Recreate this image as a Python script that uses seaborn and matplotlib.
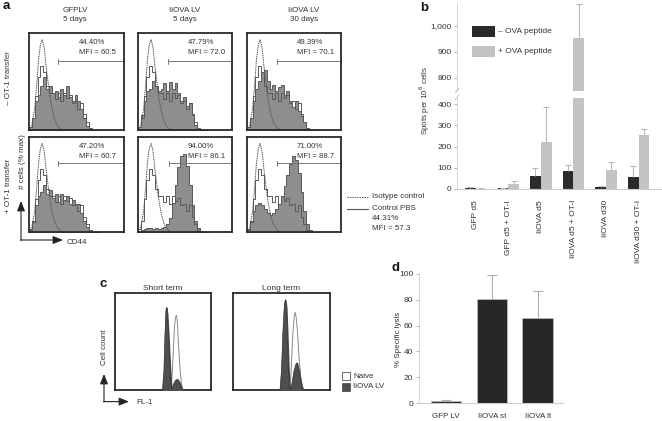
import numpy as np
import pandas as pd
import matplotlib
matplotlib.use("Agg")
import matplotlib.pyplot as plt
from matplotlib.patches import Rectangle
import seaborn as sns

# ---------------- data ----------------
# panel a (flow histograms, heights as fraction of box height)
a_col_titles = ["GFPLV\n5 days", "IiOVA LV\n5 days", "IiOVA LV\n30 days"]
a_row_titles = ["– OT-1 transfer", "+ OT-1 transfer"]
a_pct = [["44.40%", "47.79%", "49.39%"], ["47.20%", "94.00%", "71.00%"]]
a_mfi = [["MFI = 60.5", "MFI = 72.0", "MFI = 70.1"],
         ["MFI = 60.7", "MFI = 86.1", "MFI = 88.7"]]
a_bin_edges = [0.00, 0.03, 0.06, 0.09, 0.12, 0.15, 0.18, 0.21, 0.24, 0.27, 0.30, 0.33, 0.36,
               0.39, 0.42, 0.45, 0.48, 0.51, 0.54, 0.57, 0.60, 0.63, 0.66, 0.69, 0.72, 0.75]
a_control_pbs = [0.03, 0.12, 0.35, 0.55, 0.66, 0.60, 0.45, 0.38, 0.38, 0.32, 0.38, 0.30, 0.38,
                 0.33, 0.36, 0.28, 0.30, 0.22, 0.28, 0.16, 0.08, 0.02, 0.0, 0.0, 0.0]
a_gfp_minus = [0.03, 0.12, 0.30, 0.36, 0.45, 0.55, 0.42, 0.45, 0.38, 0.40, 0.34, 0.42, 0.36,
               0.45, 0.34, 0.30, 0.36, 0.30, 0.22, 0.12, 0.04, 0.0, 0.0, 0.0, 0.0]
a_iiova5_minus = [0.03, 0.15, 0.30, 0.40, 0.42, 0.50, 0.45, 0.40, 0.42, 0.48, 0.40, 0.50, 0.42,
                  0.48, 0.38, 0.30, 0.34, 0.25, 0.28, 0.15, 0.05, 0.0, 0.0, 0.0, 0.0]
a_iiova30_minus = [0.03, 0.12, 0.30, 0.42, 0.50, 0.60, 0.62, 0.50, 0.42, 0.46, 0.40, 0.44, 0.46,
                   0.36, 0.40, 0.30, 0.24, 0.30, 0.20, 0.14, 0.08, 0.02, 0.0, 0.0, 0.0]
a_gfp_plus = [0.02, 0.10, 0.28, 0.38, 0.42, 0.50, 0.40, 0.44, 0.36, 0.40, 0.32, 0.40, 0.34,
              0.38, 0.30, 0.34, 0.28, 0.30, 0.20, 0.12, 0.05, 0.0, 0.0, 0.0, 0.0]
a_iiova5_plus = [0.0, 0.02, 0.03, 0.04, 0.04, 0.03, 0.04, 0.03, 0.04, 0.05, 0.08, 0.15, 0.30,
                 0.50, 0.68, 0.80, 0.82, 0.70, 0.50, 0.28, 0.12, 0.04, 0.01, 0.0, 0.0]
a_iiova30_plus = [0.02, 0.10, 0.22, 0.28, 0.30, 0.28, 0.24, 0.20, 0.18, 0.20, 0.24, 0.30, 0.38,
                  0.48, 0.60, 0.72, 0.80, 0.76, 0.62, 0.42, 0.22, 0.08, 0.02, 0.0, 0.0]
a_iso_x = [0.0, 0.03, 0.06, 0.08, 0.10, 0.12, 0.14, 0.16, 0.18, 0.20, 0.22, 0.25, 0.28, 0.32, 0.36]
a_iso_y = [0.0, 0.05, 0.22, 0.45, 0.72, 0.88, 0.93, 0.85, 0.66, 0.50, 0.34, 0.18, 0.08, 0.02, 0.0]
a_gate_start = [[0.31, 0.32, 0.32], [0.31, 0.33, 0.32]]

# panel b (ELISPOT)
b_groups = ["GFP d5", "GFP d5 + OT-I", "IiOVA d5", "IiOVA d5 + OT-I", "IiOVA d30", "IiOVA d30 + OT-I"]
b_peptides = ["– OVA peptide", "+ OVA peptide"]
b_minus = [5, 3, 60, 85, 8, 57]
b_minus_err = [5, 2, 40, 27, 4, 53]
b_plus = [2, 24, 222, 955, 91, 255]
b_plus_err = [1, 12, 164, 130, 38, 29]
b_low_ticks = [0, 100, 200, 300, 400]
b_high_ticks = [800, 900, 1000]
b_high_labels = ["800", "900", "1,000"]

# panel c (FL-1 histograms)
c_titles = ["Short term", "Long term"]
c_st_dark_x = [0.495, 0.51, 0.52, 0.53, 0.535, 0.545, 0.555, 0.565, 0.575, 0.585, 0.595]
c_st_dark_y = [0.0, 0.20, 0.55, 0.80, 0.85, 0.78, 0.60, 0.40, 0.20, 0.06, 0.0]
c_st_naive_x = [0.58, 0.595, 0.61, 0.62, 0.63, 0.64, 0.65, 0.66, 0.675, 0.69, 0.705]
c_st_naive_y = [0.0, 0.15, 0.45, 0.65, 0.75, 0.77, 0.70, 0.50, 0.25, 0.08, 0.0]
c_st_small_x = [0.59, 0.61, 0.63, 0.65, 0.67, 0.69, 0.70]
c_st_small_y = [0.0, 0.06, 0.10, 0.11, 0.08, 0.03, 0.0]
c_lt_dark_x = [0.485, 0.50, 0.515, 0.53, 0.54, 0.55, 0.56, 0.57, 0.58, 0.59]
c_lt_dark_y = [0.0, 0.20, 0.60, 0.88, 0.93, 0.85, 0.60, 0.30, 0.08, 0.0]
c_lt_naive_x = [0.585, 0.60, 0.615, 0.63, 0.64, 0.65, 0.665, 0.68, 0.70, 0.72, 0.73]
c_lt_naive_y = [0.0, 0.20, 0.55, 0.75, 0.80, 0.76, 0.60, 0.35, 0.12, 0.03, 0.0]
c_lt_small_x = [0.595, 0.61, 0.63, 0.65, 0.66, 0.68, 0.70, 0.72]
c_lt_small_y = [0.0, 0.08, 0.20, 0.27, 0.28, 0.20, 0.07, 0.0]

# panel d (cytotoxicity)
d_groups = ["GFP LV", "IiOVA st", "IiOVA lt"]
d_vals = [1.5, 80.5, 66]
d_err = [0.6, 18.5, 21]
d_ticks = [0, 20, 40, 60, 80, 100]

# ---------------- style ----------------
sns.set_theme(style="white")
plt.rcParams["font.family"] = ["Liberation Sans", "DejaVu Sans"]
TXT = "#333333"
W, H = 662, 421
fig = plt.figure(figsize=(W / 100, H / 100), dpi=100)
fig.patch.set_facecolor("white")


def add_ax(l, t, r, b):
    return fig.add_axes([l / W, 1 - b / H, (r - l) / W, (b - t) / H])


# ---------------- panel a ----------------
a_fills = [[a_gfp_minus, a_iiova5_minus, a_iiova30_minus],
           [a_gfp_plus, a_iiova5_plus, a_iiova30_plus]]
a_box_x = [(29, 124), (138, 232), (247, 341)]
a_box_y = [(33, 130), (137, 232)]
centers = [(a_bin_edges[i] + a_bin_edges[i + 1]) / 2 for i in range(len(a_bin_edges) - 1)]
for r in range(2):
    for c in range(3):
        ax = add_ax(a_box_x[c][0], a_box_y[r][0], a_box_x[c][1], a_box_y[r][1])
        sns.histplot(x=centers, weights=a_fills[r][c], bins=a_bin_edges, element="step",
                     fill=True, color="#8e8e8e", alpha=1, edgecolor="#4a4a4a",
                     linewidth=0.6, ax=ax)
        sns.histplot(x=centers, weights=a_control_pbs, bins=a_bin_edges, element="step",
                     fill=False, color="#5a5a5a", linewidth=0.7, ax=ax)
        sns.lineplot(x=a_iso_x, y=a_iso_y, ax=ax, color="#555555", linewidth=0.7,
                     linestyle=(0, (1.5, 0.8)))
        ax.set_xlim(0, 1)
        ax.set_ylim(0, 1.0)
        ax.set(xlabel="", ylabel="", xticks=[], yticks=[])
        for s in ax.spines.values():
            s.set_color("#2a2a2a")
            s.set_linewidth(1.3)
        gs = a_gate_start[r][c]
        gy = 0.71 if r == 0 else 0.725
        ax.plot([gs, 1.0], [gy, gy], color="#777777", lw=0.7, clip_on=False)
        ax.plot([gs, gs], [gy - 0.025, gy + 0.025], color="#777777", lw=0.7, clip_on=False)
        ax.plot([1.0, 1.0], [gy - 0.025, gy + 0.025], color="#777777", lw=0.7, clip_on=False)
        ax.text(0.53, 0.90, a_pct[r][c], fontsize=5.6, color=TXT, va="center", ha="left")
        ax.text(0.53, 0.80, a_mfi[r][c], fontsize=5.6, color=TXT, va="center", ha="left")

# ---------------- panel b ----------------
b_df = pd.DataFrame({
    "group": b_groups * 2,
    "peptide": [b_peptides[0]] * len(b_groups) + [b_peptides[1]] * len(b_groups),
    "value": b_minus + b_plus,
})
b_dark, b_light = "#2a2a2a", "#c3c3c3"
b_low = add_ax(457, 98.3, 662, 189)
b_high = add_ax(457, 3, 662, 91)
for ax in (b_low, b_high):
    sns.barplot(data=b_df, x="group", y="value", hue="peptide", order=b_groups,
                hue_order=b_peptides, palette=[b_dark, b_light], saturation=1,
                width=0.66, errorbar=None, legend=False, linewidth=0, ax=ax)
    xpos = np.arange(len(b_groups))
    for off, vals, errs in ((-0.165, b_minus, b_minus_err), (0.165, b_plus, b_plus_err)):
        tops = [v + e for v, e in zip(vals, errs)]
        ax.vlines(xpos + off, vals, tops, color="#b8b8b8", lw=0.8, zorder=3)
        ax.plot(xpos + off, tops, ls="none", marker="_", ms=5, mew=0.8, color="#b8b8b8",
                zorder=3)
    ax.set_xlim(-0.575, 5.72)
    ax.set(xlabel="", ylabel="")
    for k in ("top", "right"):
        ax.spines[k].set_visible(False)
    ax.spines["left"].set_color("#d0d0d0")
    ax.spines["left"].set_linewidth(0.6)
    ax.tick_params(axis="y", left=True, length=2, width=0.6, color="#aaaaaa",
                   labelsize=6, labelcolor=TXT, pad=2)
b_low.set_ylim(0, 428)
b_low.set_yticks(b_low_ticks)
b_low.set_yticklabels([str(t) for t in b_low_ticks])
b_low.spines["bottom"].set_color("#cccccc")
b_low.spines["bottom"].set_linewidth(0.8)
b_low.set_xticks(range(len(b_groups)))
b_low.set_xticklabels(b_groups, rotation=90, fontsize=6, color=TXT, va="top")
b_low.tick_params(axis="x", bottom=False, pad=2)
b_high.set_ylim(750, 1088)
b_high.set_yticks(b_high_ticks)
b_high.set_yticklabels(b_high_labels)
b_high.spines["bottom"].set_visible(False)
b_high.set_xticks([])

# ---------------- panel c ----------------
c_box_x = [(115, 211), (233, 330)]
c_data = [(c_st_naive_x, c_st_naive_y, c_st_dark_x, c_st_dark_y, c_st_small_x, c_st_small_y),
          (c_lt_naive_x, c_lt_naive_y, c_lt_dark_x, c_lt_dark_y, c_lt_small_x, c_lt_small_y)]
for i in range(2):
    ax = add_ax(c_box_x[i][0], 293, c_box_x[i][1], 390)
    nx, ny, dx, dy, sx, sy = c_data[i]
    ax.fill_between(nx, ny, color="white", zorder=1)
    sns.lineplot(x=nx, y=ny, ax=ax, color="#8a8a8a", linewidth=0.7, zorder=2)
    ax.fill_between(dx, dy, color="#4f4f4f", zorder=3)
    sns.lineplot(x=dx, y=dy, ax=ax, color="#3a3a3a", linewidth=0.5, zorder=4)
    ax.fill_between(sx, sy, color="#4f4f4f", zorder=3)
    sns.lineplot(x=sx, y=sy, ax=ax, color="#3a3a3a", linewidth=0.5, zorder=4)
    ax.set_xlim(0, 1)
    ax.set_ylim(0, 1)
    ax.set(xlabel="", ylabel="", xticks=[], yticks=[])
    for s in ax.spines.values():
        s.set_color("#2a2a2a")
        s.set_linewidth(1.3)
    ax.set_title(c_titles[i], fontsize=6, color=TXT, pad=2)

# ---------------- panel d ----------------
d_ax = add_ax(419, 274, 563, 403)
sns.barplot(x=d_groups, y=d_vals, color="#262626", saturation=1, width=0.67,
            edgecolor="#bbbbbb", linewidth=0.6, errorbar=None, ax=d_ax)
dpos = np.arange(len(d_groups))
dtops = [v + e for v, e in zip(d_vals, d_err)]
d_ax.vlines(dpos, d_vals, dtops, color="#b0b0b0", lw=0.8, zorder=3)
d_ax.plot(dpos, dtops, ls="none", marker="_", ms=7, mew=0.8, color="#b0b0b0", zorder=3)
d_ax.set_xlim(-0.59, 2.55)
d_ax.set_ylim(0, 100)
d_ax.set_yticks(d_ticks)
d_ax.set_yticklabels([str(t) for t in d_ticks])
d_ax.set(xlabel="", ylabel="")
for k in ("top", "right"):
    d_ax.spines[k].set_visible(False)
d_ax.spines["left"].set_color("#d0d0d0")
d_ax.spines["left"].set_linewidth(0.6)
d_ax.spines["bottom"].set_color("#cccccc")
d_ax.spines["bottom"].set_linewidth(0.8)
d_ax.tick_params(axis="y", left=True, length=2, width=0.6, color="#aaaaaa",
                 labelsize=6, labelcolor=TXT, pad=2)
d_ax.tick_params(axis="x", bottom=False, labelsize=5.8, labelcolor=TXT, pad=1)

# ---------------- overlay (labels, arrows, legends) ----------------
ov = fig.add_axes([0, 0, 1, 1])
ov.set_xlim(0, W)
ov.set_ylim(H, 0)
ov.axis("off")
ov.patch.set_alpha(0)

for lbl, (x, y) in zip("abcd", [(3, 6), (420, 8), (99, 284), (392, 268)]):
    ov.text(x, y, lbl, fontsize=9.5, fontweight="bold", color="#111111", va="center", ha="left")

for t, x in zip(a_col_titles, [75, 185, 304]):
    ov.text(x, 15, t, fontsize=5.8, color=TXT, ha="center", va="center", linespacing=1.3)
ov.text(9, 78, a_row_titles[0], fontsize=5.8, color=TXT, rotation=90, ha="center", va="center")
ov.text(9, 186, a_row_titles[1], fontsize=5.8, color=TXT, rotation=90, ha="center", va="center")
ov.text(22, 162, "# cells (% max)", fontsize=5.8, color=TXT, rotation=90, ha="center", va="center")
arrow = dict(arrowstyle="-|>,head_length=0.5,head_width=0.2", color="#222222", lw=0.8,
             shrinkA=0, shrinkB=0)
ov.annotate("", xy=(21, 201), xytext=(21, 240.5), arrowprops=arrow)
ov.annotate("", xy=(63, 240), xytext=(20.6, 240), arrowprops=arrow)
ov.text(67, 242, "CD44", fontsize=5.8, color=TXT, ha="left", va="center")

# panel a legend
ov.plot([347, 368], [197, 197], color="#555555", lw=0.7, ls=(0, (1.5, 1)))
ov.text(372, 197, "Isotype control", fontsize=5.8, color=TXT, va="center")
ov.plot([347, 368], [209, 209], color="#555555", lw=0.8)
ov.text(372, 209, "Control PBS", fontsize=5.8, color=TXT, va="center")
ov.text(372, 219, "44.31%", fontsize=5.8, color=TXT, va="center")
ov.text(372, 229, "MFI = 57.3", fontsize=5.8, color=TXT, va="center")

# panel b extras
ov.text(425, 100, "Spots per 10$^6$ cells", fontsize=5.8, color=TXT, rotation=90,
        ha="center", va="center")
ov.plot([455, 459], [93, 88], color="#bbbbbb", lw=0.6)
ov.plot([455, 459], [100, 95], color="#bbbbbb", lw=0.6)
ov.add_patch(Rectangle((472, 26), 23, 11, facecolor=b_dark, edgecolor="none"))
ov.add_patch(Rectangle((472, 46), 23, 11, facecolor=b_light, edgecolor="none"))
ov.text(498, 31.5, b_peptides[0], fontsize=6, color=TXT, va="center")
ov.text(498, 51.5, b_peptides[1], fontsize=6, color=TXT, va="center")

# panel c extras
ov.text(104, 347, "Cell count", fontsize=5.8, color=TXT, rotation=90, ha="center", va="center")
ov.annotate("", xy=(104, 374), xytext=(104, 402), arrowprops=arrow)
ov.annotate("", xy=(129, 401.6), xytext=(103.6, 401.6), arrowprops=arrow)
ov.text(136, 403, "FL-1", fontsize=5.8, color=TXT, ha="left", va="center")
ov.add_patch(Rectangle((342, 372), 8, 8, facecolor="white", edgecolor="#555555", lw=0.6))
ov.add_patch(Rectangle((342, 383), 8, 8, facecolor="#4f4f4f", edgecolor="#555555", lw=0.6))
ov.text(353, 376, "Naive", fontsize=5.8, color=TXT, va="center")
ov.text(353, 387, "IiOVA LV", fontsize=5.8, color=TXT, va="center")

# panel d extras
ov.text(398, 339, "% Specific lysis", fontsize=5.8, color=TXT, rotation=90,
        ha="center", va="center")

fig.savefig("out.png", dpi=100, facecolor="white")
